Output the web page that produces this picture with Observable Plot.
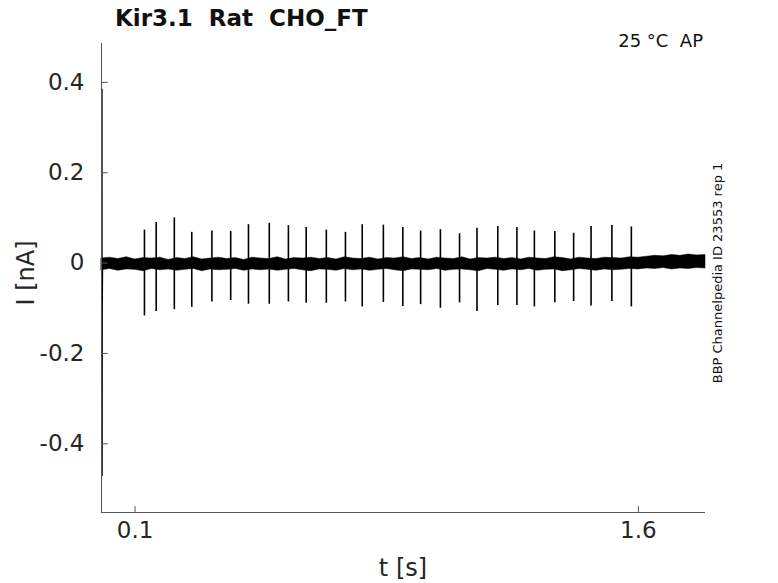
<!DOCTYPE html>
<html>
<head>
<meta charset="utf-8">
<script src="https://cdn.jsdelivr.net/npm/d3@7"></script>
<script src="https://cdn.jsdelivr.net/npm/@observablehq/plot@0.6"></script>
<style>
  html, body { margin: 0; padding: 0; background: #fff; }
  #chart { width: 778px; height: 583px; }
</style>
</head>
<body>
<div id="chart"></div>
<script>
// ---- data ----
const xDomain = [0, 1.8];
const yDomain = [-0.552, 0.486];
const xTicks = [0.1, 1.6];
const yTicks = [-0.4, -0.2, 0, 0.2, 0.4];

// spike (action-potential) times in s, with peak and trough currents in nA
const spikeT = [0.128, 0.163, 0.217, 0.269, 0.329, 0.385, 0.438, 0.500, 0.557, 0.610,
                0.670, 0.727, 0.777, 0.840, 0.898, 0.951, 1.010, 1.067, 1.119, 1.181,
                1.238, 1.290, 1.351, 1.407, 1.459, 1.521, 1.579];
const spikeHi = [0.073, 0.090, 0.100, 0.068, 0.071, 0.070, 0.085, 0.088, 0.083, 0.079,
                 0.073, 0.068, 0.085, 0.084, 0.079, 0.071, 0.074, 0.065, 0.077, 0.081,
                 0.079, 0.071, 0.070, 0.066, 0.081, 0.083, 0.080];
const spikeLo = [-0.117, -0.107, -0.103, -0.098, -0.086, -0.083, -0.091, -0.091, -0.086, -0.089,
                 -0.089, -0.086, -0.097, -0.087, -0.096, -0.092, -0.100, -0.088, -0.107, -0.094,
                 -0.094, -0.097, -0.088, -0.085, -0.095, -0.085, -0.097];

// baseline noise envelope, sampled every 0.025 s from 0 to 1.8 s
const bandT = d3.range(73).map(i => +(i * 0.025).toFixed(3));
const bandHi = [0.010,0.012,0.009,0.013,0.008,0.011,0.010,0.012,0.007,0.011,
                0.009,0.013,0.008,0.010,0.012,0.009,0.011,0.007,0.012,0.010,
                0.009,0.013,0.008,0.011,0.010,0.012,0.009,0.011,0.008,0.013,
                0.010,0.009,0.012,0.008,0.011,0.010,0.013,0.009,0.011,0.008,
                0.012,0.010,0.009,0.013,0.008,0.011,0.010,0.012,0.009,0.011,
                0.008,0.012,0.010,0.009,0.013,0.011,0.008,0.012,0.010,0.009,
                0.012,0.011,0.010,0.013,0.012,0.014,0.016,0.015,0.018,0.016,
                0.019,0.017,0.018];
const bandLo = [-0.016,-0.013,-0.017,-0.014,-0.015,-0.018,-0.013,-0.016,-0.014,-0.017,
                -0.015,-0.013,-0.018,-0.014,-0.016,-0.015,-0.013,-0.017,-0.014,-0.016,
                -0.014,-0.017,-0.015,-0.013,-0.016,-0.018,-0.014,-0.015,-0.017,-0.013,
                -0.016,-0.014,-0.017,-0.015,-0.013,-0.016,-0.018,-0.014,-0.015,-0.016,
                -0.013,-0.017,-0.015,-0.014,-0.016,-0.018,-0.013,-0.015,-0.017,-0.014,
                -0.016,-0.013,-0.017,-0.015,-0.014,-0.018,-0.016,-0.013,-0.015,-0.017,
                -0.014,-0.016,-0.015,-0.013,-0.014,-0.012,-0.013,-0.011,-0.014,-0.012,
                -0.013,-0.011,-0.012];

// initial capacitive transient
const transT = [0.0008, 0.0012, 0.0016, 0.0020, 0.0030, 0.0040];
const transV = [-0.15, 0.385, -0.47, -0.10, 0.01, 0.0];

const titleText = "Kir3.1  Rat  CHO_FT";
const condText = "25 °C  AP";
const sideText = "BBP Channelpedia ID 23553 rep 1";
const xLabel = "t [s]";
const yLabel = "I [nA]";

// ---- tables ----
const spikes = spikeT.map((t, i) => ({t, hi: spikeHi[i], lo: spikeLo[i]}));
const band = bandT.map((t, i) => ({t, hi: bandHi[i], lo: bandLo[i]}));
const trans = transT.map((t, i) => ({t, v: transV[i]}));

const W = 778, H = 583;
const mL = 101, mR = 73, mT = 43, mB = 71;
const axisColor = "#555";
const textColor = "#262626";
const fmt = d => d === 0 ? "0" : String(d);

const plot = Plot.plot({
  width: W,
  height: H,
  marginLeft: mL,
  marginRight: mR,
  marginTop: mT,
  marginBottom: mB,
  style: {fontFamily: "DejaVu Sans", color: textColor, background: "white"},
  x: {domain: xDomain, axis: null},
  y: {domain: yDomain, axis: null},
  marks: [
    Plot.areaY(band, {x: "t", y1: "lo", y2: "hi", fill: "black", stroke: "black", strokeWidth: 0.5}),
    Plot.ruleX(spikes, {x: "t", y1: "lo", y2: "hi", stroke: "black", strokeWidth: 1.6}),
    Plot.line(trans, {x: "t", y: "v", stroke: "black", strokeWidth: 1.5}),
    // axis lines
    Plot.ruleX([xDomain[0]], {stroke: axisColor, strokeWidth: 1}),
    Plot.ruleY([yDomain[0]], {stroke: axisColor, strokeWidth: 1}),
    // inward ticks
    Plot.ruleY(yTicks, {x1: xDomain[0], x2: xDomain[0] + 0.02, stroke: axisColor}),
    Plot.ruleX(xTicks, {y1: yDomain[0], y2: yDomain[0] + 0.013, stroke: axisColor}),
    // tick labels
    Plot.axisY(yTicks, {anchor: "left", tickSize: 0, tickPadding: 17, fontSize: 23, tickFormat: fmt, fill: textColor, label: null}),
    Plot.axisX(xTicks, {anchor: "bottom", tickSize: 0, tickPadding: 9, fontSize: 23, tickFormat: fmt, fill: textColor, label: null})
  ]
});

document.getElementById("chart").appendChild(plot);

const svg = d3.select(plot);
svg.append("text")
  .attr("x", 115).attr("y", 26).attr("text-anchor", "start")
  .attr("font-family", "DejaVu Sans").attr("font-weight", "bold").attr("font-size", 23)
  .attr("fill", "#111").style("white-space", "pre").text(titleText);
svg.append("text")
  .attr("x", 703).attr("y", 47).attr("text-anchor", "end")
  .attr("font-family", "DejaVu Sans").attr("font-size", 18)
  .attr("fill", "#111").style("white-space", "pre").text(condText);
svg.append("text")
  .attr("transform", "translate(722,273) rotate(-90)").attr("text-anchor", "middle")
  .attr("font-family", "DejaVu Sans").attr("font-size", 13)
  .attr("fill", "#111").text(sideText);
svg.append("text")
  .attr("x", 403).attr("y", 576).attr("text-anchor", "middle")
  .attr("font-family", "DejaVu Sans").attr("font-size", 24)
  .attr("fill", textColor).text(xLabel);
svg.append("text")
  .attr("transform", "translate(34,273) rotate(-90)").attr("text-anchor", "middle")
  .attr("font-family", "DejaVu Sans").attr("font-size", 24)
  .attr("fill", textColor).text(yLabel);
</script>
</body>
</html>
